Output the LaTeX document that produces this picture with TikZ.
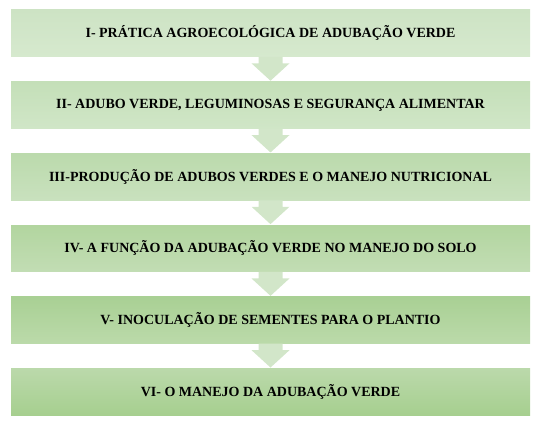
\documentclass[tikz,border=0pt]{standalone}
\usepackage{fontspec}
\setmainfont{Liberation Serif}
\usetikzlibrary{calc}
\definecolor{stageAt}{HTML}{CDE3C4}
\definecolor{stageAb}{HTML}{D6E9CE}
\definecolor{stageBt}{HTML}{C4DFB8}
\definecolor{stageBb}{HTML}{D0E6C7}
\definecolor{stageCt}{HTML}{BBDAAC}
\definecolor{stageCb}{HTML}{C9E1BE}
\definecolor{stageDt}{HTML}{B2D59F}
\definecolor{stageDb}{HTML}{C2DDB4}
\definecolor{stageEt}{HTML}{A9D094}
\definecolor{stageEb}{HTML}{BBDAAA}
\definecolor{stageFt}{HTML}{BBD9AB}
\definecolor{stageFb}{HTML}{A6CF8F}
\definecolor{arrowgreen}{HTML}{D2E6C9}
\tikzstyle{stagebox}=[rectangle,minimum width=519,minimum height=46.7,inner sep=0pt,font=\fontsize{14}{17}\selectfont\bfseries]
\tikzstyle{blockarrow}=[fill=arrowgreen,draw=none]
\begin{document}
\begin{tikzpicture}[x=1pt,y=-1pt]

    \useasboundingbox (0,0) rectangle (541,428);

     \foreach \n/\y/\top/\bot/\txt in {1/33.3/stageAt/stageAb/{I- PRÁTICA AGROECOLÓGICA DE ADUBAÇÃO VERDE},
                                        2/105.0/stageBt/stageBb/{II- ADUBO VERDE, LEGUMINOSAS E SEGURANÇA ALIMENTAR},
                                        3/176.7/stageCt/stageCb/{III-PRODUÇÃO DE ADUBOS VERDES E O MANEJO NUTRICIONAL},
                                        4/248.4/stageDt/stageDb/{IV- A FUNÇÃO DA ADUBAÇÃO VERDE NO MANEJO DO SOLO},
                                        5/320.1/stageEt/stageEb/{V- INOCULAÇÃO DE SEMENTES PARA O PLANTIO},
                                        6/391.8/stageFt/stageFb/{VI- O MANEJO DA ADUBAÇÃO VERDE}}
        \node[stagebox, top color=\top, bottom color=\bot] (s\n) at (270.5,\y) {\txt};

    % arrows between the stages
    \foreach \source/ \dest in {s1/s2, s2/s3, s3/s4, s4/s5, s5/s6}
        \fill[blockarrow] ($(\source.south)+(-12,0)$) -- ($(\source.south)+(12,0)$)
            -- ($(\source.south)+(12,6.5)$) -- ($(\source.south)+(19,6.5)$)
            -- ($(\dest.north)+(0,-0.7)$)
            -- ($(\source.south)+(-19,6.5)$) -- ($(\source.south)+(-12,6.5)$) -- cycle;

\end{tikzpicture}
\end{document}
